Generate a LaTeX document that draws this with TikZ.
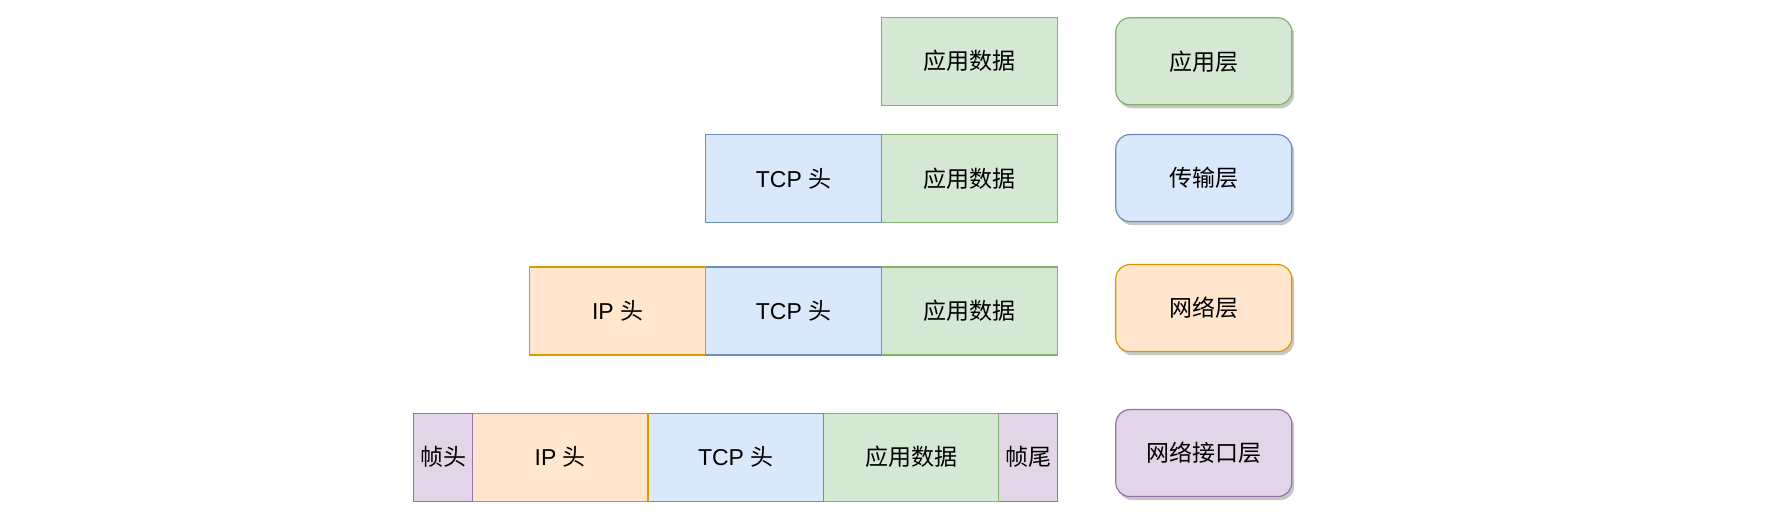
\documentclass[tikz,border=0pt]{standalone}
\usepackage{fontspec}
\setmainfont{Liberation Sans}
\newfontfamily\cjk{Noto Sans CJK SC}
\usetikzlibrary{positioning,shadows}
\definecolor{appfill}{HTML}{D5E8D4}
\definecolor{appline}{HTML}{82B366}
\definecolor{tcpfill}{HTML}{DAE8FC}
\definecolor{tcpline}{HTML}{6C8EBF}
\definecolor{ipfill}{HTML}{FFE6CC}
\definecolor{ipline}{HTML}{D79B00}
\definecolor{linkfill}{HTML}{E1D5E7}
\definecolor{linkline}{HTML}{9673A6}
\tikzstyle{field} = [draw, rectangle, line width=0.6pt, minimum height=44pt,
    inner sep=0pt, outer sep=0pt, font=\fontsize{11.5}{13}\selectfont]
\tikzstyle{appdata} = [field, fill=appfill, draw=appline, minimum width=88pt]
\tikzstyle{tcphead} = [field, fill=tcpfill, draw=tcpline, minimum width=88pt]
\tikzstyle{iphead} = [field, fill=ipfill, draw=ipline, minimum width=88pt]
\tikzstyle{frame} = [field, fill=linkfill, draw=linkline, minimum width=29.5pt]
\tikzstyle{layer} = [draw, rectangle, rounded corners=7pt, line width=0.6pt,
    minimum width=88pt, minimum height=43.5pt, inner sep=0pt,
    font=\fontsize{11.5}{13}\selectfont,
    drop shadow={shadow xshift=1.2pt, shadow yshift=-1.8pt, fill=black!40, opacity=0.55}]

\begin{document}
\begin{tikzpicture}
  \useasboundingbox (0,0) rectangle (888pt,-264pt);
  % rows
  \node [appdata, anchor=north east] (d1) at (528.8pt,-8.6pt) {\cjk 应用数据};
  \node [appdata, anchor=north east] (d2) at (528.8pt,-67.4pt) {\cjk 应用数据};
  \node [tcphead, left=0pt of d2] (t2) {TCP {\cjk 头}};
  \node [appdata, anchor=north east] (d3) at (528.8pt,-133.5pt) {\cjk 应用数据};
  \node [tcphead, left=0pt of d3] (t3) {TCP {\cjk 头}};
  \node [iphead, left=0pt of t3] (i3) {IP {\cjk 头}};
  \node [frame, anchor=north east] (ft4) at (528.8pt,-206.6pt) {\cjk 帧尾};
  \node [appdata, minimum width=87.6pt, left=0pt of ft4] (d4) {\cjk 应用数据};
  \node [tcphead, minimum width=87.7pt, left=0pt of d4] (t4) {TCP {\cjk 头}};
  \node [iphead, minimum width=87.7pt, left=0pt of t4] (i4) {IP {\cjk 头}};
  \node [frame, left=0pt of i4] (fh4) {\cjk 帧头};
  % layers
  \node [layer, fill=appfill, draw=appline, anchor=north] (l1) at (601.9pt,-8.6pt) {\cjk 应用层};
  \node [layer, fill=tcpfill, draw=tcpline, anchor=north] (l2) at (601.9pt,-67pt) {\cjk 传输层};
  \node [layer, fill=ipfill, draw=ipline, anchor=north] (l3) at (601.9pt,-132pt) {\cjk 网络层};
  \node [layer, fill=linkfill, draw=linkline, anchor=north] (l4) at (601.9pt,-204.5pt) {\cjk 网络接口层};
\end{tikzpicture}
\end{document}
